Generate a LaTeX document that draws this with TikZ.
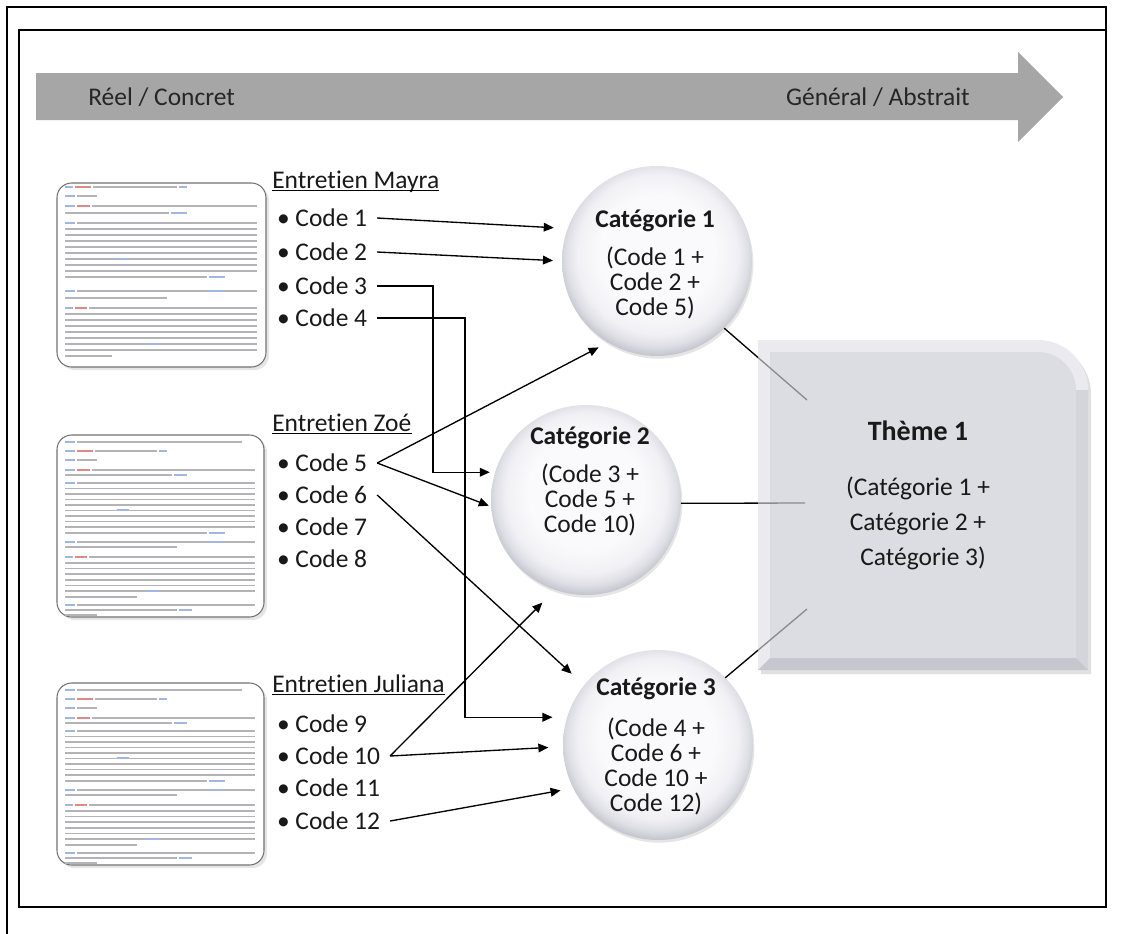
\documentclass[tikz,border=0pt]{standalone}
\usepackage{fontspec}
\setmainfont{Carlito}[Ligatures=NoCommon]
\usetikzlibrary{arrows.meta,shadows}
\definecolor{bandgray}{HTML}{A6A6A6}
\definecolor{sphA}{HTML}{FAFAFC}
\definecolor{sphB}{HTML}{F1F1F5}
\definecolor{sphC}{HTML}{DEDEE5}
\definecolor{sphD}{HTML}{C2C2CB}
\definecolor{boxface}{HTML}{DCDCE3}
\definecolor{boxtop}{HTML}{EAEAEF}
\definecolor{boxright}{HTML}{D4D4DB}
\definecolor{boxbottom}{HTML}{C6C6CE}
\definecolor{txtgray}{HTML}{B4B4B8}
\definecolor{txtblue}{HTML}{A3B6E2}
\definecolor{txtred}{HTML}{E08A86}
\pgfdeclareradialshading{sphere}{\pgfpoint{0bp}{3bp}}{color(0bp)=(sphA); color(15bp)=(sphA); color(21bp)=(sphB); color(24bp)=(sphC); color(26.5bp)=(sphD); color(50bp)=(sphD)}
\newcommand\fsz{\fontsize{19.1pt}{18.75pt}\selectfont}
\tikzset{
 code/.style={anchor=west, inner sep=0pt, outer xsep=7.5pt, font=\fsz, text=black!90},
 ttl/.style={anchor=base west, inner sep=0pt, font=\fsz, text=black!90},
 cat/.style={circle, minimum size=142.5pt, inner sep=0pt, outer sep=0pt, shade, shading=sphere,
   drop shadow={shadow xshift=1pt, shadow yshift=-2pt, opacity=0.2}},
 catlabel/.style={inner sep=0pt, align=center, font=\fsz, text=black!90},
 theme/.style={inner sep=0pt, align=center, font=\fontsize{19.1pt}{26.25pt}\selectfont, text=black!90},
 band/.style={inner sep=0pt, font=\fsz, text=black!85},
 conn/.style={line width=1pt, -{Triangle[length=7.5pt,width=6.5pt]}},
 link/.style={line width=1pt},
 docframe/.style={draw=black!55, line width=0.8pt, rounded corners=11pt, fill=white},
 tl/.style={fill=txtgray},
 tb/.style={fill=txtblue},
 tr/.style={fill=txtred}
}
\newcommand\tline[4][tl]{\fill[#1] (#2,#4-0.8) rectangle (#3,#4+0.8);}
\newcommand\docA[2]{%
\begin{scope}[shift={(#1,#2)}]
 \fill[black,opacity=0.10,rounded corners=11pt] (3,3) rectangle (212,187);
 \draw[docframe] (0,0) rectangle (209,184);
 \tline[tb]{8}{16}{4}\tline[tr]{18}{34}{4}\tline{36}{120}{4}\tline[tb]{122}{130}{4}
 \tline[tb]{8}{18}{13}\tline{20}{40}{13}
 \tline[tb]{8}{18}{23}\tline[tr]{20}{33}{23}\tline{35}{200}{23}
 \tline{8}{112}{30}\tline[tb]{114}{130}{30}
 \tline[tb]{8}{18}{40}\tline{20}{200}{40}
 \foreach \yy in {46,52,...,88} {\tline{8}{200}{\yy}}
 \tline[tb]{60}{72}{76}
 \tline{8}{150}{94}\tline[tb]{152}{168}{94}
 \tline[tb]{8}{18}{108}\tline{20}{200}{108}\tline[tb]{150}{166}{108}
 \tline{8}{110}{115}
 \tline[tb]{8}{16}{125}\tline[tr]{18}{30}{125}\tline{32}{200}{125}
 \foreach \yy in {131,137,...,167} {\tline{8}{200}{\yy}}
 \tline[tb]{90}{102}{161}
 \tline{8}{55}{173}
\end{scope}}
\newcommand\docB[2]{%
\begin{scope}[shift={(#1,#2)}]
 \fill[black,opacity=0.10,rounded corners=11pt] (3,3) rectangle (210,185);
 \draw[docframe] (0,0) rectangle (207,182);
 \tline[tb]{8}{18}{7}\tline{20}{185}{7}
 \tline[tb]{8}{18}{16}\tline[tr]{20}{36}{16}\tline{38}{100}{16}\tline[tb]{102}{110}{16}
 \tline[tb]{8}{18}{25}\tline{20}{40}{25}
 \tline[tb]{8}{18}{35}\tline[tr]{20}{33}{35}\tline{35}{198}{35}
 \tline{8}{115}{40}\tline[tb]{117}{130}{40}
 \tline[tb]{8}{18}{48}\tline{20}{198}{48}
 \foreach \yy in {53.5,59,...,92} {\tline{8}{198}{\yy}}
 \tline[tb]{60}{72}{75}
 \tline{8}{150}{98}\tline[tb]{152}{168}{98}
 \tline[tb]{8}{18}{107}\tline{20}{198}{107}\tline[tb]{150}{166}{107}
 \tline{8}{120}{112}
 \tline[tb]{8}{16}{122}\tline[tr]{18}{30}{122}\tline{32}{198}{122}
 \foreach \yy in {127.7,133.4,...,160} {\tline{8}{198}{\yy}}
 \tline[tb]{90}{102}{156}
 \tline{8}{80}{162}
 \tline[tb]{8}{18}{170}\tline{20}{198}{170}
 \tline{8}{120}{175}\tline[tb]{122}{135}{175}
 \tline{8}{40}{180}
\end{scope}}
\begin{document}
\begin{tikzpicture}[x=0.75pt,y=-0.75pt]
\useasboundingbox (0,0) rectangle (1123,933);
\fill[white] (0,0) rectangle (1123,933);
% frames
\draw[line width=1pt] (7,940) -- (7,7) -- (1106,7) -- (1106,907) -- (19,907) -- (19,30) -- (1106,30);
% gray band arrow
\fill[bandgray] (36,73) -- (1018,73) -- (1018,52) -- (1063,97) -- (1018,142) -- (1018,120) -- (36,120) -- cycle;
\node[band, anchor=west] (real) at (88,97) {Réel / Concret};
\node[band, anchor=east] (abs) at (970,97) {Général / Abstrait};
% documents
\docA{57}{183}
\docB{57}{435}
\docB{57}{683}
% interview titles
\node[ttl] (tm) at (272,188) {Entretien Mayra};
\node[ttl] (tz) at (272,431) {Entretien Zoé};
\node[ttl] (tj) at (272,692) {Entretien Juliana};
\foreach \t in {tm,tz,tj} {\draw[line width=0.8pt] ([yshift=-2pt]\t.base west) -- ([yshift=-2pt]\t.base east);}
% codes
\node[code] (m1) at (267,218) {\textbullet\ Code 1};
\node[code] (m2) at (267,252) {\textbullet\ Code 2};
\node[code] (m3) at (267,286) {\textbullet\ Code 3};
\node[code] (m4) at (267,318) {\textbullet\ Code 4};
\node[code] (z5) at (267,463) {\textbullet\ Code 5};
\node[code] (z6) at (267,495) {\textbullet\ Code 6};
\node[code] (z7) at (267,527) {\textbullet\ Code 7};
\node[code] (z8) at (267,559) {\textbullet\ Code 8};
\node[code] (j9) at (267,724) {\textbullet\ Code 9};
\node[code] (j10) at (267,756) {\textbullet\ Code 10};
\node[code] (j11) at (267,788) {\textbullet\ Code 11};
\node[code] (j12) at (267,821) {\textbullet\ Code 12};
% theme box
\fill[black, opacity=0.12] (761,344) -- (1041,344) .. controls (1068.6,344) and (1091,366.4) .. (1091,394) -- (1091,674) -- (761,674) -- cycle;
\fill[boxtop] (758,670) -- (758,340) -- (1038,340) .. controls (1065.6,340) and (1088,362.4) .. (1088,390) -- (1088,670) -- cycle;
\fill[boxright] (1088,390) -- (1088,670) -- (1076,658) -- (1076,390) -- cycle;
\fill[boxbottom] (758,670) -- (1088,670) -- (1076,658) -- (770,658) -- cycle;
\fill[boxface] (770,658) -- (770,352) -- (1038,352) .. controls (1059,352) and (1076,369) .. (1076,390) -- (1076,658) -- cycle;
\node[theme] (theme) at (918,495) {{\fontsize{21pt}{26pt}\selectfont\bfseries Thème 1}\\[15pt](Catégorie 1 +\\Catégorie 2 +\\\hspace*{0.4em}Catégorie 3)};
\coordinate (t1) at (807,400);
\coordinate (t2) at (805,503);
\coordinate (t3) at (807,609);
% categories
\node[cat] (c1) at (657,261) {};
\node[cat] (c2) at (586,500) {};
\node[cat] (c3) at (658,745) {};
\node[catlabel] (c1t) at (655,264) {\textbf{Catégorie 1}\\[9.75pt](Code 1 +\\Code 2 +\\Code 5)};
\node[catlabel] (c2t) at (590,481) {\textbf{Catégorie 2}\\[9.75pt](Code 3 +\\Code 5 +\\Code 10)};
\node[catlabel] (c3t) at (656,746) {\textbf{Catégorie 3}\\[12pt](Code 4 +\\Code 6 +\\Code 10 +\\Code 12)};
% links categories -> theme
\begin{scope}
 \clip (0,0) rectangle (758,933);
 \draw[link] (c1.315) -- (t1);
 \draw[link] (c2.358) -- (t2);
 \draw[link] (c3.45) -- (t3);
\end{scope}
\begin{scope}
 \clip (758,0) rectangle (1123,933);
 \draw[link, draw=black!45] (c1.315) -- (t1);
 \draw[link, draw=black!45] (c2.358) -- (t2);
 \draw[link, draw=black!45] (c3.45) -- (t3);
\end{scope}
% connectors codes -> categories
\coordinate (k3) at (433,400);
\coordinate (k4) at (465,500);
\draw[conn, shorten >=10.5pt] (m1.east) -- (c1.160);
\draw[conn, shorten >=6.75pt] (m2.east) -- (c1.180);
\draw[conn, shorten >=4pt] (m3.east) -| (k3) |- (c2.163);
\draw[conn, shorten >=11pt] (m4.east) -| (k4) |- (c3.163);
\draw[conn, shorten >=8pt] (z5.east) -- (c1.239);
\draw[conn, shorten >=2pt] (z5.east) -- (c2.184);
\draw[conn, shorten >=12.75pt] (z6.east) -- (c3.141.5);
\draw[conn, shorten >=13.5pt] (j10.east) -- (c2.251);
\draw[conn, shorten >=11pt] (j10.east) -- (c3.181);
\draw[conn, shorten >=9.75pt] (j12.east) -- (c3.207.5);
\end{tikzpicture}
\end{document}
